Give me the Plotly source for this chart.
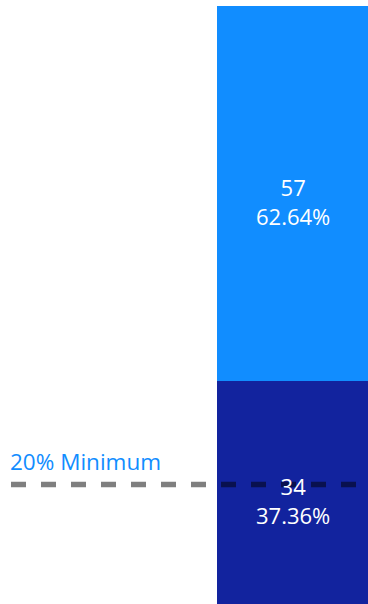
import plotly.graph_objects as go

# Segment counts (bottom to top)
categories = ["Group A", "Group B"]
counts = [34, 57]
colors = ["#12239E", "#118DFF"]
minimum_share = 0.20
minimum_label = "20% Minimum"

total = sum(counts)
shares = [c / total * 100 for c in counts]

W, H = 368, 604
FONT = "Segoe UI, Open Sans, sans-serif"
fig = go.Figure()

for name, val, col in zip(categories, counts, colors):
    fig.add_trace(go.Bar(
        x=[0], y=[val], name=name, marker=dict(color=col, line=dict(width=0)),
        width=1, hoverinfo="skip", showlegend=False,
    ))

# Value + share labels centred on each segment
base = 0
for val, pct in zip(counts, shares):
    mid = base + val / 2
    fig.add_annotation(
        x=0, y=mid, xref="x", yref="y",
        text=f"{val}<br>{pct:.2f}%", showarrow=False, yshift=-8,
        font=dict(family=FONT, size=22, color="white"),
    )
    base += val

# Minimum threshold line
min_val = total * minimum_share
fig.add_shape(
    type="line", xref="paper", yref="y",
    x0=11 / W, x1=356 / W, y0=min_val, y1=min_val,
    line=dict(color="rgba(0,0,0,0.5)", width=5.5, dash="15px,15px"),
    layer="above",
)
fig.add_annotation(
    x=11 / W, y=min_val, xref="paper", yref="y",
    text=minimum_label, showarrow=False, xanchor="left", yanchor="bottom",
    xshift=-3, yshift=5, font=dict(family=FONT, size=22.5, color="#118DFF"),
)

fig.update_layout(
    width=W, height=H, barmode="stack",
    margin=dict(l=0, r=0, t=6, b=0),
    paper_bgcolor="white", plot_bgcolor="white",
    xaxis=dict(range=[-0.5 - (217 / 151), 0.5], visible=False, fixedrange=True),
    yaxis=dict(range=[0, total], visible=False, fixedrange=True),
)

fig.write_html("out.html", config={"displayModeBar": False})
